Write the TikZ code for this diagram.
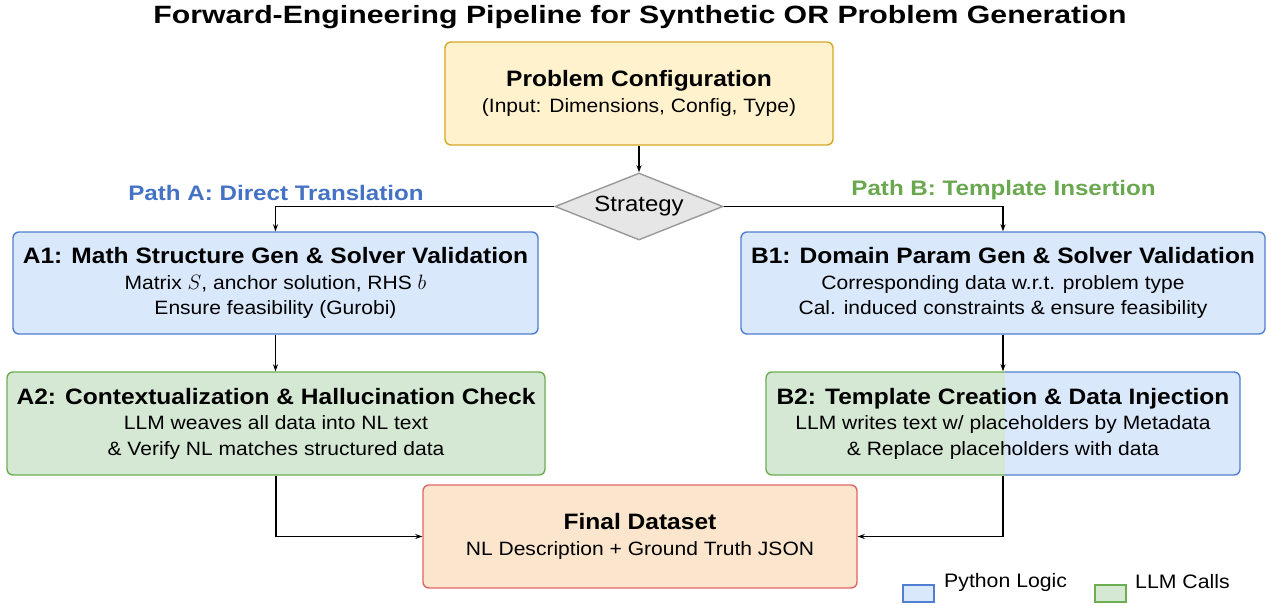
\documentclass[tikz,border=0pt]{standalone}
\usepackage{fontspec}
\setmainfont{Liberation Sans}
\newfontfamily\titlefam[FakeStretch=1.21]{Liberation Sans}
\newfontfamily\headfam[FakeStretch=1.10]{Liberation Sans}
\newfontfamily\bodyfam[FakeStretch=1.09]{Liberation Sans}
\newfontfamily\labelfam[FakeStretch=1.15]{Liberation Sans}
\usetikzlibrary{arrows.meta,shapes.geometric}

\definecolor{cfgfill}{HTML}{FFF2CC}
\definecolor{cfgline}{HTML}{D6A929}
\definecolor{pyfill}{HTML}{DAE8FC}
\definecolor{pyline}{HTML}{4F7FD0}
\definecolor{llmfill}{HTML}{D5E8D4}
\definecolor{llmline}{HTML}{6DAE52}
\definecolor{outfill}{HTML}{FCE5CD}
\definecolor{outline}{HTML}{E06666}
\definecolor{decfill}{HTML}{E6E6E6}
\definecolor{decline}{HTML}{999999}
\definecolor{pathA}{HTML}{4472C4}
\definecolor{pathB}{HTML}{6AA84F}

\newcommand{\headfont}{\headfam\bfseries\fontsize{22.3}{25.5}\selectfont}

\begin{document}
\begin{tikzpicture}[x=1pt,y=-1pt,
  box/.style={rectangle, rounded corners=6pt, line width=1.4pt, align=center,
    inner sep=0pt, font=\bodyfam\fontsize{19.3}{25.5}\selectfont},
  pybox/.style={box, fill=pyfill, draw=pyline},
  llmbox/.style={box, fill=llmfill, draw=llmline},
  conn/.style={line width=1.1pt, -{Stealth[length=7pt,width=5pt]}},
  pathlabel/.style={font=\labelfam\bfseries\fontsize{21}{24}\selectfont, inner sep=0pt},
  legendtext/.style={font=\bodyfam\fontsize{19.5}{22}\selectfont, inner sep=0pt, anchor=west}
]
\useasboundingbox (0,0) rectangle (1271,605);

% title
\node[font=\titlefam\bfseries\fontsize{25}{30}\selectfont, inner sep=0pt] (title) at (640,17)
  {Forward-Engineering Pipeline for Synthetic OR Problem Generation};

% input configuration
\node[box, fill=cfgfill, draw=cfgline, minimum width=388pt, minimum height=103pt] (cfg) at (639,93.5)
  {{\headfont Problem Configuration}\\(Input: Dimensions, Config, Type)};

% strategy decision
\node[diamond, aspect=2.5, fill=decfill, draw=decline, line width=1.4pt, inner sep=0pt,
  minimum width=168pt, minimum height=67pt, font=\bodyfam\fontsize{22}{24}\selectfont] (strat) at (639,206.5) {Strategy};

\node[pathlabel, text=pathA] (pa) at (276,193) {Path A: Direct Translation};
\node[pathlabel, text=pathB] (pb) at (1003.5,190) {Path B: Template Insertion};

% path A
\node[pybox, minimum width=525pt, minimum height=102pt] (a1) at (275.5,283)
  {{\headfont A1: Math Structure Gen \& Solver Validation}\\
   Matrix $S$, anchor solution, RHS $b$\\
   Ensure feasibility (Gurobi)};
\node[llmbox, minimum width=538pt, minimum height=103pt] (a2) at (276,423.5)
  {{\headfont A2: Contextualization \& Hallucination Check}\\
   LLM weaves all data into NL text\\
   \& Verify NL matches structured data};

% path B
\node[pybox, minimum width=524pt, minimum height=102pt] (b1) at (1003,283)
  {{\headfont B1: Domain Param Gen \& Solver Validation}\\
   Corresponding data w.r.t. problem type\\
   Cal. induced constraints \& ensure feasibility};

% B2 mixes an LLM step (left half) with Python logic (right half)
\begin{scope}
  \clip (700,360) rectangle (1005,490);
  \draw[rounded corners=6pt, line width=1.4pt, fill=llmfill, draw=llmline] (766,372) rectangle (1240,475);
\end{scope}
\begin{scope}
  \clip (1005,360) rectangle (1260,490);
  \draw[rounded corners=6pt, line width=1.4pt, fill=pyfill, draw=pyline] (766,372) rectangle (1240,475);
\end{scope}
\node[box, minimum width=474pt, minimum height=103pt] (b2) at (1003,423.5)
  {{\headfont B2: Template Creation \& Data Injection}\\
   LLM writes text w/ placeholders by Metadata\\
   \& Replace placeholders with data};

% output
\node[box, fill=outfill, draw=outline, minimum width=434pt, minimum height=103pt] (final) at (640,536.5)
  {{\headfont Final Dataset}\\NL Description + Ground Truth JSON};

% connectors
\draw[conn] (cfg.south) -- (strat.north);
\draw[conn] (strat.west) -| (a1.north);
\draw[conn] (strat.east) -| (b1.north);
\draw[conn] (a1.south) -- (a1.south |- a2.north);
\draw[conn] (b1.south) -- (b1.south |- b2.north);
\draw[conn] (a2.south) |- (final.west);
\draw[conn] (b2.south) |- (final.east);

% legend
\node[rectangle, fill=pyfill, draw=pyline, line width=1.2pt, minimum width=31pt, minimum height=17pt, inner sep=0pt] (lgpy) at (918.5,593.5) {};
\node[legendtext] (lgpyt) at (944,582) {Python Logic};
\node[rectangle, fill=llmfill, draw=llmline, line width=1.2pt, minimum width=31pt, minimum height=17pt, inner sep=0pt] (lgllm) at (1110.5,593.5) {};
\node[legendtext] (lgllmt) at (1135,582) {LLM Calls};
\end{tikzpicture}
\end{document}
